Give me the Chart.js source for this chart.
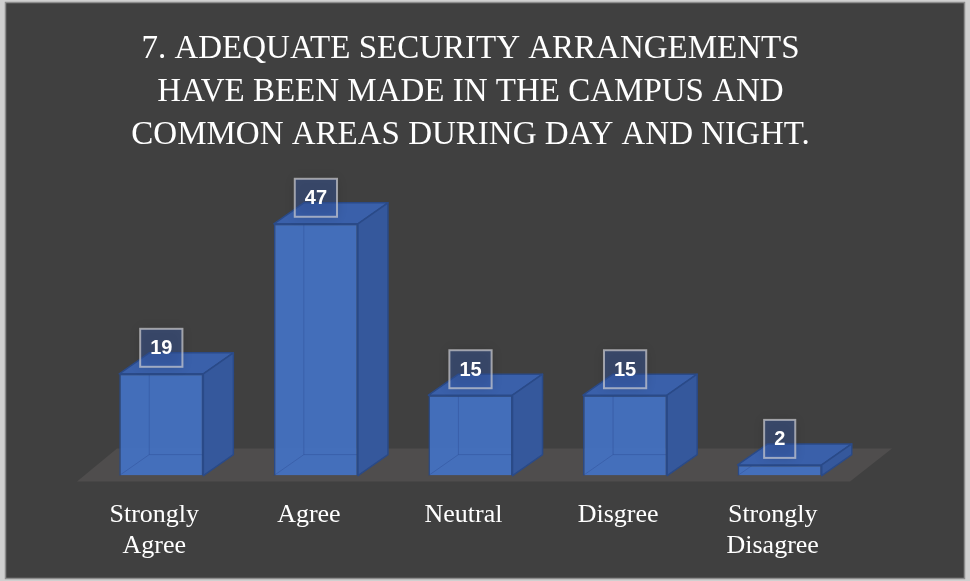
<!DOCTYPE html>
<html><head><meta charset="utf-8">
<script src="https://cdn.jsdelivr.net/npm/chart.js@4"></script>
<style>html,body{margin:0;padding:0;background:#404040;}canvas{display:block}</style>
</head><body>
<canvas id="c" width="970" height="581"></canvas>
<script>
const titleLines = ['7. ADEQUATE SECURITY ARRANGEMENTS', 'HAVE BEEN MADE IN THE CAMPUS AND', 'COMMON AREAS DURING DAY AND NIGHT.'];
const categories = [['Strongly', 'Agree'], ['Agree'], ['Neutral'], ['Disgree'], ['Strongly', 'Disagree']];
const responses = [19, 47, 15, 15, 2];
const yMax = 50;

const DX = 30, DY = -21;
const EDGE = '#2a4a88';

const frame = {
  id: 'frame',
  beforeDraw(chart) {
    const c = chart.ctx;
    c.save();
    c.fillStyle = '#d0d0d0';
    c.fillRect(0, 0, chart.width, chart.height);
    c.fillStyle = '#404040';
    c.fillRect(6, 3, chart.width - 12, chart.height - 6);
    c.strokeStyle = '#8c8c8c';
    c.lineWidth = 1.5;
    c.strokeRect(5.5, 2.5, chart.width - 11, chart.height - 5);
    c.restore();
  }
};

const floor3d = {
  id: 'floor3d',
  beforeDatasetsDraw(chart) {
    const c = chart.ctx, ca = chart.chartArea;
    const base = chart.scales.y.getPixelForValue(0);
    const fy = base + 6, by = base - 27, fl = ca.left - 7, fr = ca.right - 7;
    c.save();
    c.fillStyle = '#4f4d4d';
    c.beginPath();
    c.moveTo(fl, fy); c.lineTo(fr, fy); c.lineTo(fr + 42, by); c.lineTo(fl + 40, by);
    c.closePath(); c.fill();
    c.restore();
  }
};

const bars3d = {
  id: 'bars3d',
  afterDatasetsDraw(chart) {
    const c = chart.ctx;
    const meta = chart.getDatasetMeta(0);
    c.save();
    c.lineJoin = 'round';
    meta.data.forEach(el => {
      const xl = el.x - el.width / 2, xr = el.x + el.width / 2, yt = el.y, yb = el.base;
      c.strokeStyle = 'rgba(40,70,140,0.35)';
      c.lineWidth = 1;
      c.beginPath();
      c.moveTo(xl + DX, yt + DY); c.lineTo(xl + DX, yb + DY); c.lineTo(xr + DX, yb + DY);
      c.moveTo(xl, yb); c.lineTo(xl + DX, yb + DY);
      c.stroke();
      c.lineWidth = 1.5;
      c.strokeStyle = EDGE;
      c.fillStyle = '#3a60aa';
      c.beginPath();
      c.moveTo(xl, yt); c.lineTo(xr, yt); c.lineTo(xr + DX, yt + DY); c.lineTo(xl + DX, yt + DY);
      c.closePath(); c.fill(); c.stroke();
      c.fillStyle = '#35589c';
      c.beginPath();
      c.moveTo(xr, yt); c.lineTo(xr + DX, yt + DY); c.lineTo(xr + DX, yb + DY); c.lineTo(xr, yb);
      c.closePath(); c.fill(); c.stroke();
    });
    c.restore();
  },
  afterDraw(chart) {
    const c = chart.ctx;
    const meta = chart.getDatasetMeta(0);
    const vals = chart.data.datasets[0].data;
    c.save();
    c.font = 'bold 20px "Liberation Sans", Arial, sans-serif';
    c.textAlign = 'center';
    c.textBaseline = 'middle';
    meta.data.forEach((el, i) => {
      const txt = String(vals[i]);
      const w = c.measureText(txt).width + 20, h = 38;
      const x = el.x - w / 2, y = el.y - 7 - h;
      c.save();
      c.shadowColor = 'rgba(0,0,0,0.35)';
      c.shadowBlur = 10;
      c.fillStyle = 'rgba(55,90,170,0.42)';
      c.fillRect(x, y, w, h);
      c.restore();
      c.strokeStyle = 'rgba(205,205,210,0.7)';
      c.lineWidth = 2;
      c.strokeRect(x, y, w, h);
      c.fillStyle = '#ffffff';
      c.fillText(txt, el.x, y + h / 2 + 1);
    });
    c.restore();
  }
};

new Chart(document.getElementById('c'), {
  type: 'bar',
  data: {
    labels: categories,
    datasets: [{
      data: responses,
      backgroundColor: 'rgba(68,114,196,0.93)',
      borderColor: EDGE,
      borderWidth: 1.5,
      categoryPercentage: 1,
      barPercentage: 0.544
    }]
  },
  options: {
    responsive: false,
    animation: false,
    devicePixelRatio: 1,
    layout: { padding: { left: 84, right: 113, top: 0, bottom: 3 } },
    plugins: {
      legend: { display: false },
      tooltip: { enabled: false },
      title: {
        display: true,
        text: titleLines,
        color: '#ffffff',
        font: { family: '"Liberation Serif", serif', size: 33, weight: 'normal', lineHeight: 1.3 },
        padding: { top: 28, bottom: 51 }
      }
    },
    scales: {
      x: {
        grid: { display: false },
        border: { display: false },
        ticks: {
          color: '#ffffff',
          font: { family: '"Liberation Serif", serif', size: 26, lineHeight: 1.2 },
          padding: 16,
          labelOffset: -7,
          maxRotation: 0,
          autoSkip: false
        }
      },
      y: { display: false, min: 0, max: yMax }
    }
  },
  plugins: [frame, floor3d, bars3d]
});
</script>
</body></html>
